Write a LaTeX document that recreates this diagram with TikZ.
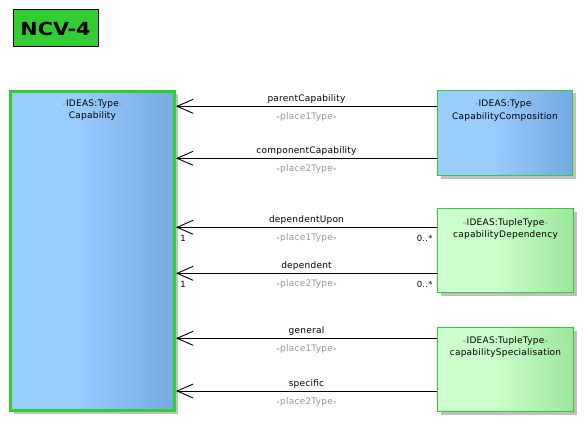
\documentclass[tikz,border=0pt]{standalone}
\usepackage{fontspec}
\setmainfont{DejaVu Sans}[LetterSpace=2.5]
\newfontfamily\titlefont{DejaVu Sans}[BoldFont=DejaVu Sans Bold]
\usetikzlibrary{arrows.meta,shadows,calc}

\definecolor{umlgreen}{RGB}{50,205,50}
\definecolor{typeLight}{RGB}{153,204,255}
\definecolor{typeDark}{RGB}{116,170,224}
\definecolor{tupleLight}{RGB}{204,255,204}
\definecolor{tupleDark}{RGB}{156,230,156}
\definecolor{stgray}{RGB}{150,150,150}
\definecolor{shadowgray}{RGB}{192,192,192}

% the path is mapped onto the 25bp..75bp band of each shading
\pgfdeclarehorizontalshading{typefill}{100bp}{color(0bp)=(typeLight); color(25bp)=(typeLight); color(45bp)=(typeLight); color(75bp)=(typeDark); color(100bp)=(typeDark)}
\pgfdeclarehorizontalshading{tuplefill}{100bp}{color(0bp)=(tupleLight); color(25bp)=(tupleLight); color(46bp)=(tupleLight); color(75bp)=(tupleDark); color(100bp)=(tupleDark)}

% stereotype with small grey guillemets
\newcommand\umlst[1]{{\fontsize{6.5}{7}\selectfont\color{stgray}«}#1{\fontsize{6.5}{7}\selectfont\color{stgray}»}}

\tikzset{
  boxshadow/.style={drop shadow={shadow xshift=3pt, shadow yshift=-3pt, fill=shadowgray, opacity=1}},
  typebox/.style={draw=umlgreen, line width=1pt, shading=typefill, inner sep=0pt, boxshadow},
  tuplebox/.style={draw=umlgreen, line width=1pt, shading=tuplefill, inner sep=0pt, boxshadow},
  boxtext/.style={inner sep=0pt, anchor=base, font=\fontsize{9}{10}\selectfont},
  rolelabel/.style={inner sep=0pt, anchor=base, yshift=4.5pt, font=\fontsize{9}{10}\selectfont},
  placelabel/.style={inner sep=0pt, anchor=base, yshift=-13pt, text=stgray, font=\fontsize{9}{10}\selectfont},
  multlabel/.style={inner sep=0pt, yshift=-14pt, font=\fontsize{8.5}{10}\selectfont},
  assoc/.style={line width=0.9pt, -{Straight Barb[length=16pt, width=14pt]}},
  titlebox/.style={draw=black, line width=1pt, fill=umlgreen, inner sep=0pt,
    minimum width=85pt, minimum height=37pt, font=\titlefont\bfseries\fontsize{18}{20}\selectfont}
}

\begin{document}
\begin{tikzpicture}[x=1pt, y=-1pt]
\useasboundingbox (0,0) rectangle (585,422);

% diagram title
\node[titlebox] (title) at (55.5,28.5) {\scalebox{1.15}[1]{NCV-4}};

% classes
\node[typebox, line width=3pt, minimum width=164pt, minimum height=319pt] (cap) at (92.5,251) {};
\node[typebox, minimum width=135pt, minimum height=85pt] (comp) at (505,133) {};
\node[tuplebox, minimum width=136pt, minimum height=84pt] (dep) at (505.5,250.5) {};
\node[tuplebox, minimum width=136pt, minimum height=84pt] (spec) at (505.5,369.5) {};

% class headings
\node[boxtext] (cap-st)   at ($(cap.north)+(0,16.7)$)  {\umlst{IDEAS:Type}};
\node[boxtext] (cap-nm)   at ($(cap.north)+(0,29)$)    {Capability};
\node[boxtext] (comp-st)  at ($(comp.north)+(0,17)$)   {\umlst{IDEAS:Type}};
\node[boxtext] (comp-nm)  at ($(comp.north)+(0,29.3)$) {CapabilityComposition};
\node[boxtext] (dep-st)   at ($(dep.north)+(0,17.5)$)  {\umlst{IDEAS:TupleType}};
\node[boxtext] (dep-nm)   at ($(dep.north)+(0,29.2)$)  {capabilityDependency};
\node[boxtext] (spec-st)  at ($(spec.north)+(0,16)$)   {\umlst{IDEAS:TupleType}};
\node[boxtext] (spec-nm)  at ($(spec.north)+(0,28.5)$) {capabilitySpecialisation};

% associations towards Capability
\draw[assoc] (comp.west |- 0,106.3) -- (cap.east |- 0,106.3)
  node[midway, rolelabel] {parentCapability}
  node[midway, placelabel] {\umlst{place1Type}};
\draw[assoc] (comp.west |- 0,158.3) -- (cap.east |- 0,158.3)
  node[midway, rolelabel] {componentCapability}
  node[midway, placelabel] {\umlst{place2Type}};

\draw[assoc] (dep.west |- 0,227.3) -- (cap.east |- 0,227.3)
  node[midway, rolelabel] {dependentUpon}
  node[midway, placelabel] {\umlst{place1Type}}
  node[pos=1, multlabel, anchor=base west, xshift=4pt] {1}
  node[pos=0, multlabel, anchor=base east, xshift=-4pt] {0..*};
\draw[assoc] (dep.west |- 0,273.3) -- (cap.east |- 0,273.3)
  node[midway, rolelabel] {dependent}
  node[midway, placelabel] {\umlst{place2Type}}
  node[pos=1, multlabel, anchor=base west, xshift=4pt] {1}
  node[pos=0, multlabel, anchor=base east, xshift=-4pt] {0..*};

\draw[assoc] (spec.west |- 0,338.3) -- (cap.east |- 0,338.3)
  node[midway, rolelabel] {general}
  node[midway, placelabel] {\umlst{place1Type}};
\draw[assoc] (spec.west |- 0,391) -- (cap.east |- 0,391)
  node[midway, rolelabel] {specific}
  node[midway, placelabel] {\umlst{place2Type}};
\end{tikzpicture}
\end{document}
